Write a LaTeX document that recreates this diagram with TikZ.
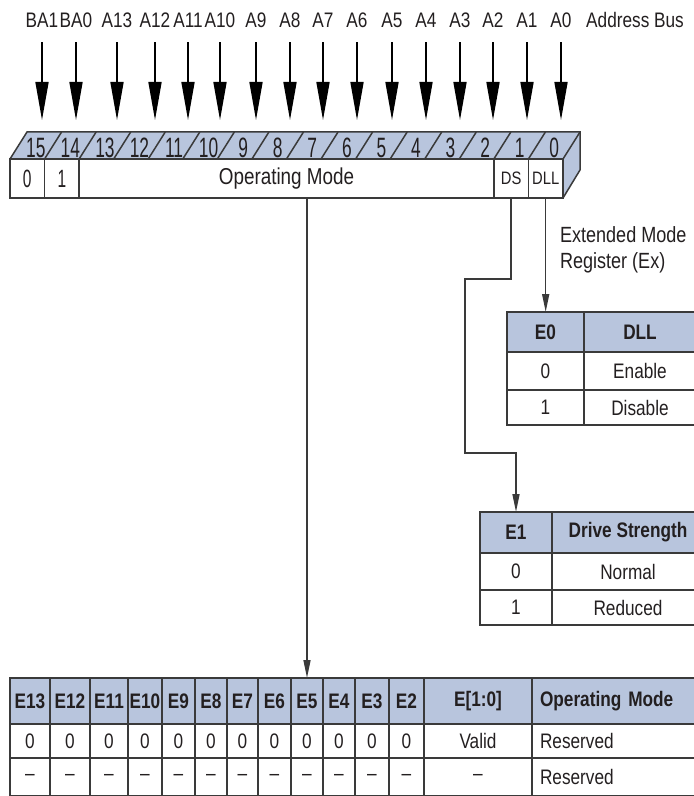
\documentclass[tikz,border=0pt]{standalone}
\usepackage{fontspec}
\setmainfont{Liberation Sans}[FakeStretch=0.82]
\newfontfamily\narrowdigits{Liberation Sans}[FakeStretch=0.62]
\usetikzlibrary{arrows.meta,positioning,calc}
\definecolor{RegBlue}{HTML}{B8C5DD}
\definecolor{LineGray}{HTML}{3A3A3A}
\definecolor{InkBlack}{HTML}{231F20}

\begin{document}
\begin{tikzpicture}[x=0.5pt, y=-0.5pt,
  font=\fontsize{10.5}{12}\selectfont, text=InkBlack,
  busarrow/.style={draw=black, line width=0.8pt, -{Triangle[length=19pt,width=6.5pt]}},
  conn/.style={draw=LineGray, line width=0.75pt},
  connarrow/.style={conn, -{Triangle[length=9pt,width=3.5pt]}},
  regcell/.style={draw=LineGray, line width=0.7pt, fill=white, minimum height=19.5pt, inner sep=0pt, outer sep=0pt, anchor=west, font=\fontsize{11.5}{13}\selectfont},
  cell/.style={draw=LineGray, line width=0.75pt, inner sep=0pt, outer sep=0pt, anchor=north west},
  head/.style={cell, fill=RegBlue, font=\fontsize{10.5}{12}\selectfont\bfseries},
  leftcell/.style={align=left, inner xsep=4pt, text width=76pt}
]
\useasboundingbox (0,0) rectangle (693,796);

% address bus
\foreach \x/\lab [count=\i] in {42/BA1, 76/BA0, 117/A13, 155/A12, 188/A11, 220/A10, 256/A9, 290/A8,
    323/A7, 357/A6, 392/A5, 426/A4, 460/A3, 493/A2, 527/A1, 561/A0} {
  \node (adr\i) at (\x,20) {\lab};
  \coordinate (tip\i) at (\x,120);
  \draw[busarrow] ([yshift=-4pt]adr\i.south) -- (tip\i);
}
\node (busname) at (635,20) {Address Bus};

% register, top and side faces
\fill[RegBlue] (10,159) -- (27,132) -- (580,132) -- (563,159) -- cycle;
\fill[RegBlue] (563,159) -- (580,132) -- (580,170) -- (563,198) -- cycle;
\draw[conn] (10,159) -- (27,132) -- (580,132) -- (580,170) -- (563,198);
\draw[conn] (563,159) -- (580,132);
\foreach \k in {1,...,15}
  \draw[conn] ({10+34.56*\k},159) -- ({27+34.56*\k},132);
\foreach \k in {0,...,15} {
  \pgfmathtruncatemacro\bit{15-\k}
  \node[font=\fontsize{14}{16}\narrowdigits] (bit\bit) at ({35.8+34.56*\k},148) {\bit};
}

% register, front face
\node[regcell, minimum width=17.28pt, font=\fontsize{12.5}{14}\narrowdigits] (r15) at (10,178.5) {0};
\node[regcell, minimum width=17.28pt, font=\fontsize{12.5}{14}\narrowdigits, right=0pt of r15] (r14) {1};
\node[regcell, minimum width=207.36pt, right=0pt of r14] (opm) {Operating Mode};
\node[regcell, minimum width=17.28pt, right=0pt of opm, font=\fontsize{9}{11}\selectfont] (ds) {DS};
\node[regcell, minimum width=17.28pt, right=0pt of ds, font=\fontsize{9}{11}\selectfont] (dll) {DLL};

\node[align=left, anchor=north west, font=\fontsize{11}{13}\selectfont] (exreg) at (553,219) {Extended Mode\\Register (Ex)};

% DLL table
\node[head, minimum width=38.5pt, minimum height=20pt] (e0) at (507,312) {E0};
\node[head, minimum width=56pt, minimum height=20pt, right=0pt of e0] (dllh) {DLL};
\node[cell, minimum width=38.5pt, minimum height=19pt, below=0pt of e0] (e0a) {0};
\node[cell, minimum width=56pt, minimum height=19pt, below=0pt of dllh] (dlla) {Enable};
\node[cell, minimum width=38.5pt, minimum height=17.5pt, below=0pt of e0a] (e0b) {1};
\node[cell, minimum width=56pt, minimum height=17.5pt, below=0pt of dlla] (dllb) {Disable};

% drive strength table
\node[head, minimum width=36pt, minimum height=20.5pt] (e1) at (480,512) {E1};
\node[head, minimum width=76pt, minimum height=20.5pt, right=0pt of e1] (drvh) {Drive Strength};
\node[cell, minimum width=36pt, minimum height=18.5pt, below=0pt of e1] (e1a) {0};
\node[cell, minimum width=76pt, minimum height=18.5pt, below=0pt of drvh] (drva) {Normal};
\node[cell, minimum width=36pt, minimum height=17.5pt, below=0pt of e1a] (e1b) {1};
\node[cell, minimum width=76pt, minimum height=17.5pt, below=0pt of drva] (drvb) {Reduced};

% operating mode table
\foreach \l/\r/\n in {10/50/13, 50/90/12, 90/128/11, 128/162/10, 162/195/9, 195/227/8,
    227/258/7, 258/291/6, 291/323/5, 323/355/4, 355/389/3, 389/424/2} {
  \pgfmathsetmacro\cw{(\r-\l)/2}
  \node[head, minimum width=\cw pt, minimum height=23pt] (m\n) at (\l,678) {E\n};
  \node[cell, minimum width=\cw pt, minimum height=17pt, below=0pt of m\n] (z\n) {0};
  \node[cell, minimum width=\cw pt, minimum height=19pt, below=0pt of z\n] (d\n) {--};
}
\node[head, minimum width=54pt, minimum height=23pt] (mlow) at (424,678) {E[1:0]};
\node[cell, minimum width=54pt, minimum height=17pt, below=0pt of mlow] (zlow) {Valid};
\node[cell, minimum width=54pt, minimum height=19pt, below=0pt of zlow] (dlow) {--};
\node[head, leftcell, minimum height=23pt] (mop) at (532,678) {Operating Mode};
\node[cell, leftcell, minimum height=17pt, below=0pt of mop] (zop) {Reserved};
\node[cell, leftcell, minimum height=19pt, below=0pt of zop] (dop) {Reserved};

% connectors
\coordinate (dsA) at (465,279);
\coordinate (dsB) at (465,453);
\draw[connarrow] (opm.south -| m5.north) -- (m5.north);
\draw[connarrow] (dll.south) -- (dll.south |- e0.north);
\draw[connarrow] (ds.south) |- (dsA) -- (dsB) -| (e1.north);
\end{tikzpicture}
\end{document}
